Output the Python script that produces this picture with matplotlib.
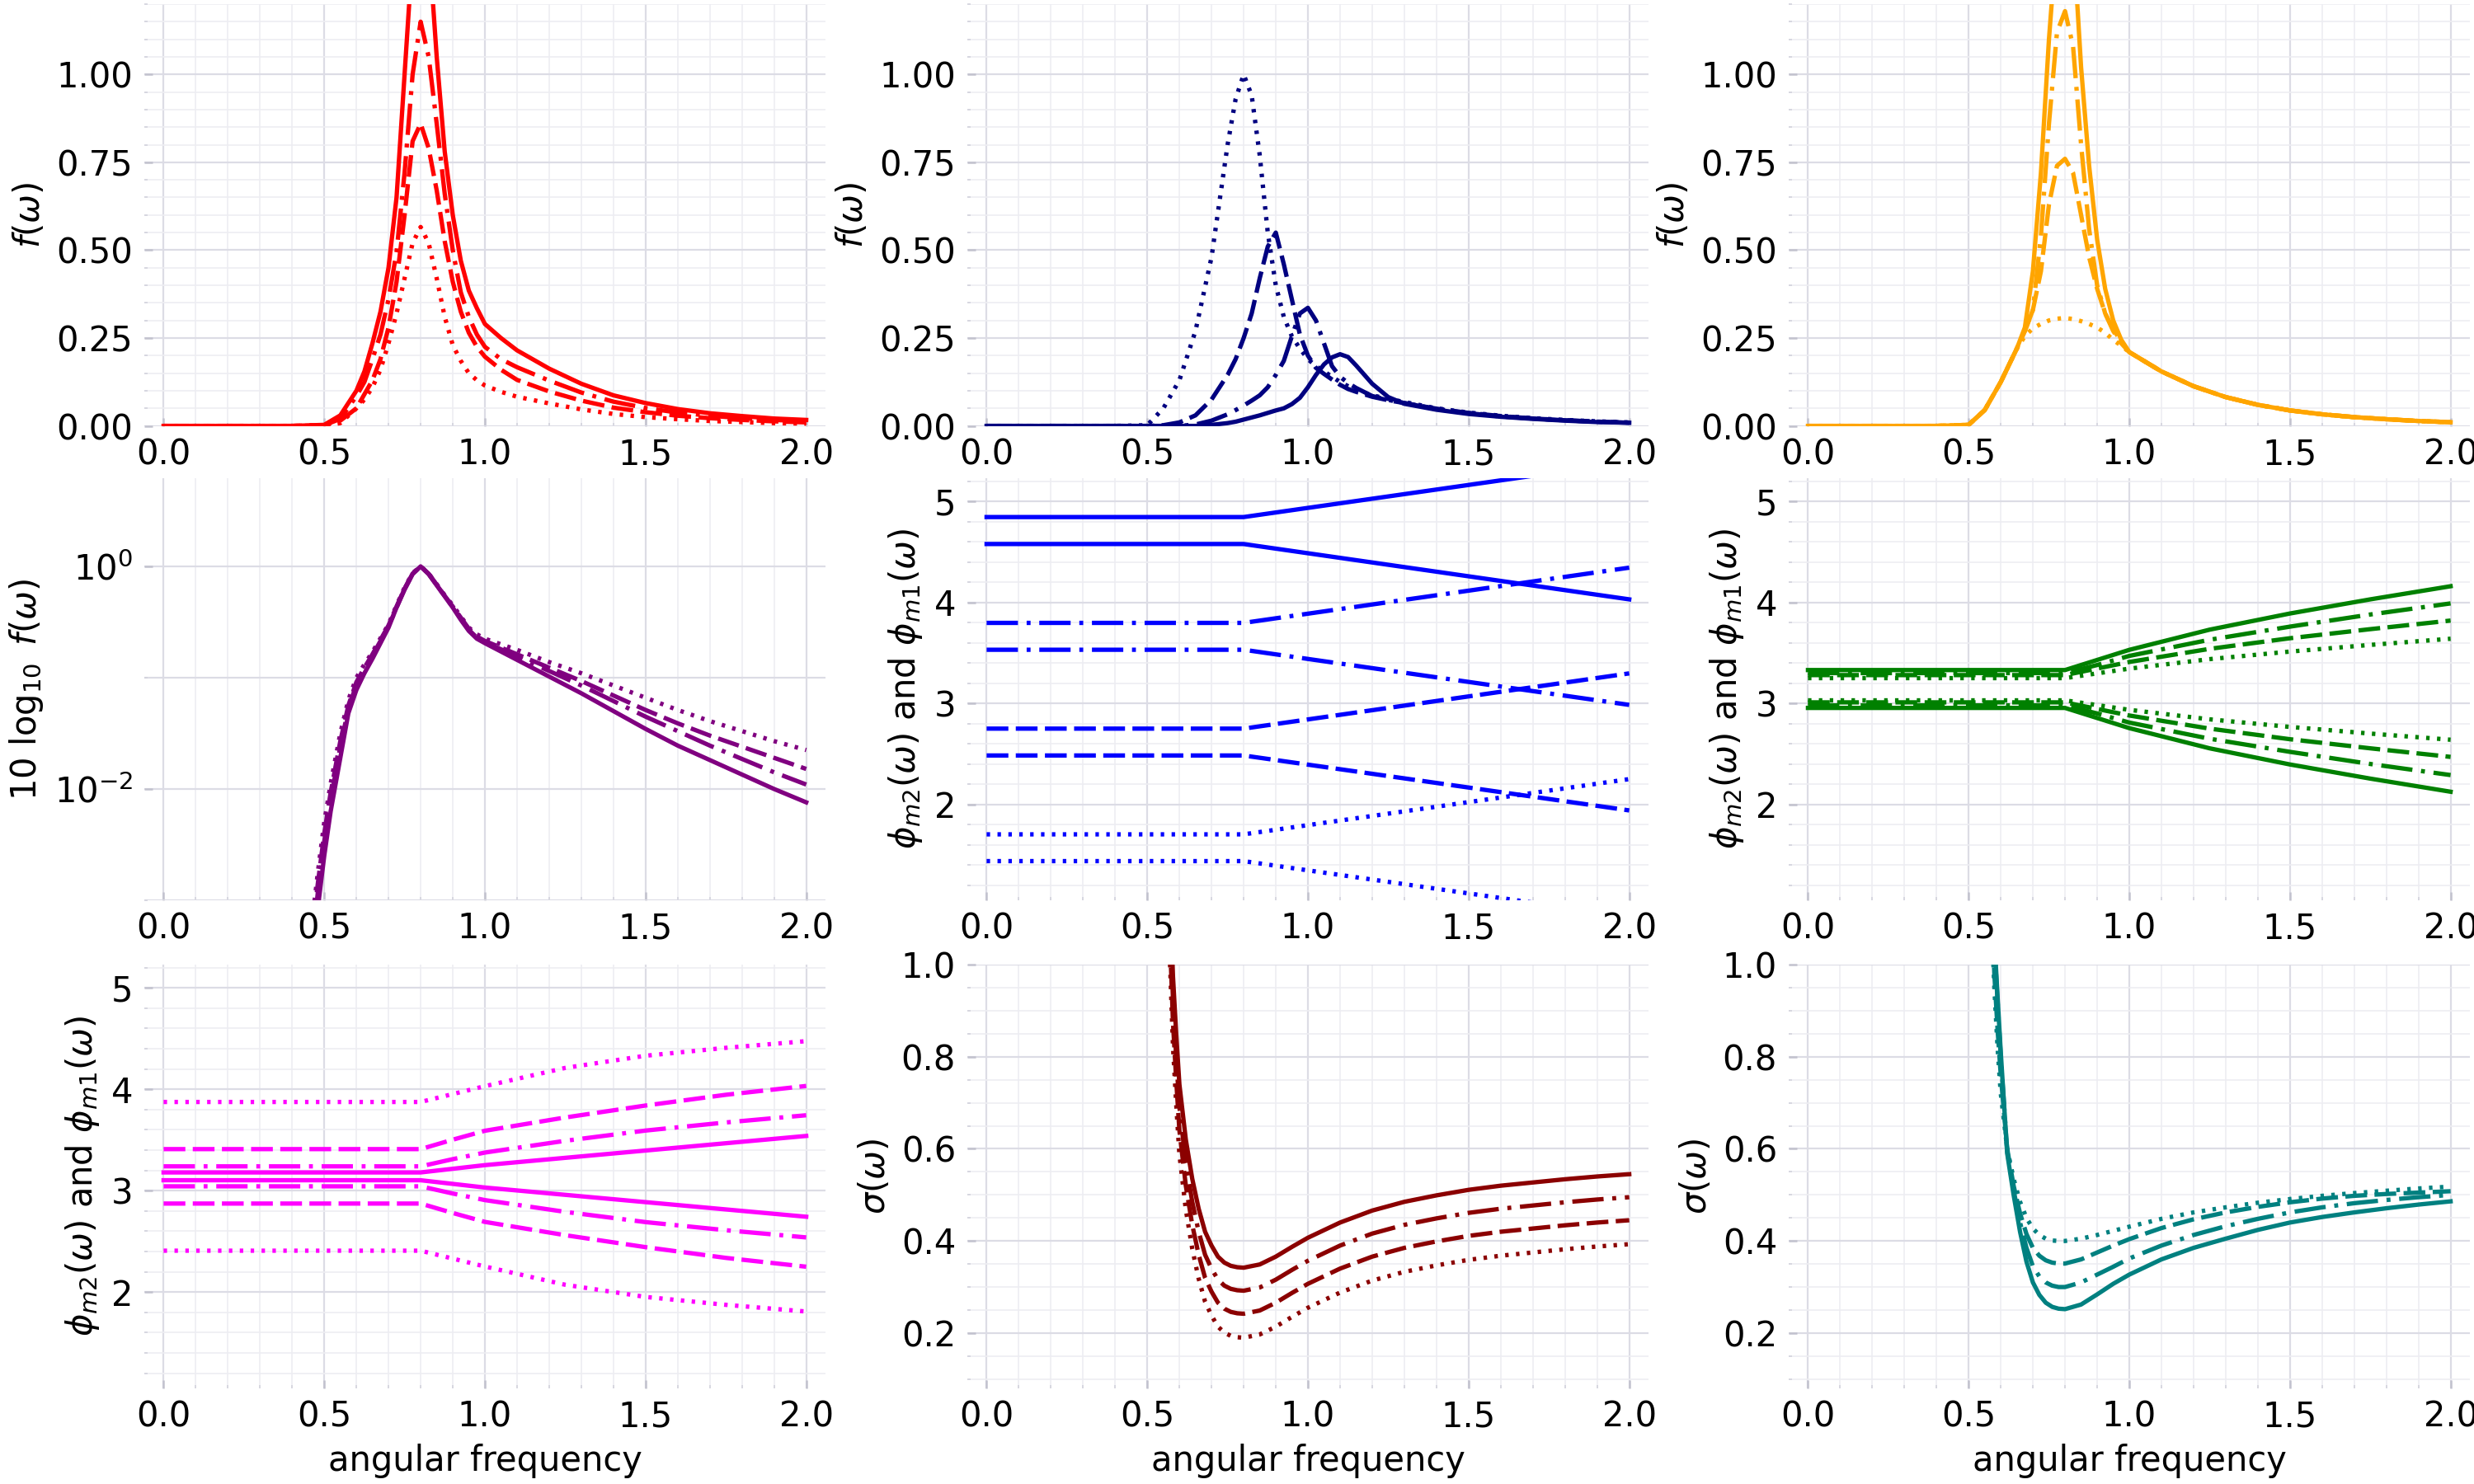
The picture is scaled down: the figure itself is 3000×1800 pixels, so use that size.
import numpy as np
import matplotlib
matplotlib.use("Agg")
import matplotlib.pyplot as plt
from matplotlib.ticker import MultipleLocator, AutoMinorLocator, FixedLocator, NullFormatter

# ---- spectra, row 1 ----
x_f1 = [0.0, 0.4, 0.5, 0.55, 0.6, 0.625, 0.65, 0.675, 0.7, 0.725, 0.75, 0.775, 0.8, 0.825, 0.85, 0.875,
        0.9, 0.925, 0.95, 0.975, 1.0, 1.05, 1.1, 1.2, 1.3, 1.4, 1.5, 1.6, 1.7, 1.8, 1.9, 2.0]
red_solid = [0, 0, 0.003, 0.03, 0.10, 0.155, 0.235, 0.325, 0.45, 0.65, 1.0, 1.35, 1.6, 1.38, 1.05, 0.78,
             0.60, 0.47, 0.385, 0.335, 0.29, 0.25, 0.215, 0.163, 0.12, 0.087, 0.065, 0.048, 0.036, 0.028, 0.021, 0.017]
red_dashdot = [0, 0, 0.002, 0.02, 0.085, 0.125, 0.19, 0.26, 0.36, 0.495, 0.72, 1.0, 1.15, 1.05, 0.86, 0.66,
               0.50, 0.38, 0.31, 0.26, 0.225, 0.19, 0.167, 0.129, 0.095, 0.069, 0.051, 0.038, 0.029, 0.022, 0.017, 0.013]
red_dashed = [0, 0, 0.002, 0.015, 0.05, 0.09, 0.13, 0.19, 0.28, 0.41, 0.60, 0.81, 0.86, 0.79, 0.67, 0.525,
              0.41, 0.325, 0.265, 0.225, 0.197, 0.16, 0.131, 0.098, 0.072, 0.052, 0.039, 0.029, 0.022, 0.017, 0.013, 0.010]
red_dotted = [0, 0, 0.001, 0.008, 0.05, 0.075, 0.11, 0.16, 0.235, 0.32, 0.42, 0.52, 0.566, 0.52, 0.42, 0.31,
              0.23, 0.185, 0.15, 0.13, 0.115, 0.097, 0.083, 0.064, 0.047, 0.034, 0.025, 0.019, 0.014, 0.011, 0.008, 0.0066]

x_f2 = [0.0, 0.4, 0.5, 0.55, 0.6, 0.65, 0.7, 0.75, 0.775, 0.8, 0.825, 0.85, 0.875, 0.9, 0.925, 0.95, 0.975,
        1.0, 1.025, 1.05, 1.075, 1.1, 1.125, 1.15, 1.2, 1.25, 1.3, 1.4, 1.5, 1.6, 1.7, 1.8, 1.9, 2.0]
navy_solid = [0, 0, 0, 0, 0, 0, 0.003, 0.008, 0.012, 0.018, 0.024, 0.03, 0.037, 0.044, 0.05, 0.062, 0.08,
              0.11, 0.145, 0.175, 0.195, 0.204, 0.196, 0.172, 0.12, 0.082, 0.063, 0.046, 0.034, 0.026, 0.02, 0.015, 0.011, 0.009]
navy_dashdot = [0, 0, 0, 0, 0, 0.004, 0.015, 0.033, 0.045, 0.058, 0.072, 0.087, 0.11, 0.145, 0.185, 0.255, 0.32,
                0.336, 0.30, 0.235, 0.17, 0.14, 0.122, 0.108, 0.085, 0.074, 0.065, 0.048, 0.036, 0.027, 0.021, 0.016, 0.012, 0.009]
navy_dashed = [0, 0, 0, 0.002, 0.01, 0.03, 0.075, 0.145, 0.19, 0.25, 0.32, 0.42, 0.51, 0.55, 0.46, 0.36, 0.26,
               0.20, 0.165, 0.148, 0.132, 0.117, 0.105, 0.097, 0.083, 0.073, 0.065, 0.049, 0.037, 0.028, 0.021, 0.016, 0.012, 0.0095]
navy_dotted = [0, 0, 0.002, 0.05, 0.13, 0.27, 0.48, 0.80, 0.93, 1.0, 0.94, 0.77, 0.55, 0.40, 0.31, 0.255, 0.22,
               0.19, 0.17, 0.155, 0.14, 0.125, 0.113, 0.102, 0.087, 0.077, 0.068, 0.05, 0.038, 0.029, 0.022, 0.017, 0.013, 0.010]

x_f3 = [0.0, 0.4, 0.5, 0.55, 0.6, 0.65, 0.675, 0.7, 0.725, 0.75, 0.775, 0.8, 0.825, 0.85, 0.875,
        0.9, 0.925, 0.95, 0.975, 1.0, 1.1, 1.2, 1.3, 1.4, 1.5, 1.6, 1.7, 1.8, 1.9, 2.0]
orange_solid = [0, 0, 0.003, 0.045, 0.125, 0.22, 0.28, 0.44, 0.72, 1.1, 1.4, 1.55, 1.4, 1.02, 0.74,
                0.53, 0.39, 0.30, 0.245, 0.21, 0.155, 0.113, 0.082, 0.060, 0.044, 0.033, 0.025, 0.019, 0.014, 0.0105]
orange_dashdot = [0, 0, 0.003, 0.045, 0.125, 0.22, 0.27, 0.33, 0.54, 0.86, 1.12, 1.18, 1.08, 0.80, 0.56,
                  0.40, 0.32, 0.275, 0.24, 0.21, 0.155, 0.113, 0.082, 0.060, 0.044, 0.033, 0.025, 0.019, 0.014, 0.0105]
orange_dashed = [0, 0, 0.003, 0.045, 0.125, 0.22, 0.27, 0.33, 0.44, 0.63, 0.74, 0.76, 0.72, 0.60, 0.48,
                 0.39, 0.32, 0.27, 0.235, 0.21, 0.155, 0.113, 0.082, 0.060, 0.044, 0.033, 0.025, 0.019, 0.014, 0.0105]
orange_dotted = [0, 0, 0.003, 0.045, 0.125, 0.22, 0.255, 0.278, 0.29, 0.30, 0.305, 0.307, 0.304, 0.298, 0.29,
                 0.28, 0.265, 0.245, 0.228, 0.21, 0.155, 0.113, 0.082, 0.060, 0.044, 0.033, 0.025, 0.019, 0.014, 0.0105]

# ---- normalised spectrum on a log axis (values are log10 readings) ----
x_log = [0.46, 0.47, 0.48, 0.5, 0.52, 0.55, 0.575, 0.6, 0.625, 0.65, 0.7, 0.725, 0.75, 0.775, 0.8, 0.825,
         0.85, 0.875, 0.9, 0.925, 0.95, 0.975, 1.0, 1.1, 1.2, 1.3, 1.4, 1.5, 1.6, 1.7, 1.8, 1.9, 2.0]
purple_solid = [-3.8, -3.4, -3.07, -2.6, -2.2, -1.72, -1.32, -1.11, -0.96, -0.83, -0.55, -0.37, -0.21, -0.07, 0.0,
                -0.07, -0.17, -0.27, -0.37, -0.48, -0.58, -0.65, -0.69,
                -0.84, -0.99, -1.14, -1.3, -1.46, -1.61, -1.74, -1.87, -2.0, -2.12]
purple_dashdot = [-3.55, -3.2, -2.93, -2.47, -2.1, -1.62, -1.28, -1.06, -0.93, -0.8, -0.54, -0.37, -0.2, -0.067, 0.0,
                  -0.068, -0.167, -0.267, -0.365, -0.47, -0.57, -0.64, -0.68,
                  -0.81, -0.94, -1.07, -1.21, -1.35, -1.48, -1.61, -1.73, -1.85, -1.96]
purple_dashed = [-3.45, -3.1, -2.85, -2.4, -2.03, -1.57, -1.25, -1.04, -0.91, -0.79, -0.53, -0.36, -0.2, -0.065, 0.0,
                 -0.067, -0.165, -0.265, -0.36, -0.46, -0.56, -0.63, -0.67,
                 -0.79, -0.91, -1.03, -1.16, -1.29, -1.41, -1.52, -1.62, -1.72, -1.82]
purple_dotted = [-3.3, -3.0, -2.75, -2.3, -1.95, -1.5, -1.2, -1.0, -0.88, -0.77, -0.52, -0.35, -0.19, -0.06, 0.0,
                 -0.065, -0.16, -0.26, -0.35, -0.45, -0.55, -0.61, -0.65,
                 -0.75, -0.86, -0.96, -1.07, -1.18, -1.29, -1.39, -1.48, -1.57, -1.65]

# ---- phases ----
x_blue = [0.0, 0.8, 2.0]
blue_up = {'solid': [4.845, 4.845, 5.39], 'dashdot': [3.797, 3.797, 4.344],
           'dashed': [2.75, 2.75, 3.297], 'dotted': [1.703, 1.703, 2.25]}
blue_lo = {'solid': [4.578, 4.578, 4.03], 'dashdot': [3.531, 3.531, 2.985],
           'dashed': [2.484, 2.484, 1.94], 'dotted': [1.438, 1.438, 0.89]}

x_ph = [0.0, 0.8, 0.9, 1.0, 1.25, 1.5, 1.75, 2.0]
green_up = {'solid': [3.33, 3.33, 3.43, 3.53, 3.73, 3.89, 4.03, 4.16],
            'dashdot': [3.30, 3.30, 3.38, 3.47, 3.63, 3.76, 3.88, 3.99],
            'dashed': [3.28, 3.28, 3.345, 3.41, 3.54, 3.645, 3.735, 3.82],
            'dotted': [3.25, 3.25, 3.297, 3.344, 3.438, 3.513, 3.579, 3.64]}
green_lo = {'solid': [2.955, 2.955, 2.855, 2.755, 2.555, 2.395, 2.255, 2.125],
            'dashdot': [2.98, 2.98, 2.90, 2.81, 2.65, 2.52, 2.40, 2.29],
            'dashed': [3.01, 3.01, 2.945, 2.88, 2.75, 2.645, 2.555, 2.47],
            'dotted': [3.03, 3.03, 2.983, 2.936, 2.842, 2.767, 2.701, 2.64]}
magenta_up = {'solid': [3.18, 3.18, 3.216, 3.252, 3.324, 3.396, 3.468, 3.54],
              'dashdot': [3.24, 3.24, 3.311, 3.376, 3.492, 3.593, 3.673, 3.744],
              'dashed': [3.41, 3.41, 3.503, 3.591, 3.722, 3.84, 3.946, 4.033],
              'dotted': [3.875, 3.875, 3.953, 4.031, 4.211, 4.331, 4.409, 4.475]}
magenta_lo = {'solid': [3.103, 3.103, 3.067, 3.031, 2.959, 2.887, 2.815, 2.743],
              'dashdot': [3.043, 3.043, 2.972, 2.907, 2.791, 2.69, 2.61, 2.539],
              'dashed': [2.873, 2.873, 2.78, 2.692, 2.561, 2.443, 2.337, 2.25],
              'dotted': [2.408, 2.408, 2.33, 2.252, 2.072, 1.952, 1.874, 1.808]}

# ---- sigma ----
x_sig = [0.55, 0.56, 0.57, 0.58, 0.59, 0.6, 0.62, 0.64, 0.66, 0.68, 0.7, 0.72, 0.74, 0.76, 0.78, 0.8,
         0.85, 0.9, 0.95, 1.0, 1.1, 1.2, 1.3, 1.4, 1.5, 1.6, 1.7, 1.8, 1.9, 2.0]
dred_solid = [1.6, 1.4, 1.17, 0.975, 0.85, 0.74, 0.62, 0.535, 0.47, 0.42, 0.39, 0.366, 0.353, 0.346, 0.343, 0.342,
              0.349, 0.366, 0.387, 0.407, 0.44, 0.466, 0.485, 0.499, 0.511, 0.52, 0.527, 0.534, 0.54, 0.545]
dred_dashdot = [1.55, 1.35, 1.12, 0.925, 0.80, 0.69, 0.57, 0.485, 0.42, 0.37, 0.34, 0.316, 0.303, 0.296, 0.293, 0.292,
                0.299, 0.316, 0.337, 0.357, 0.39, 0.416, 0.435, 0.449, 0.461, 0.47, 0.477, 0.484, 0.49, 0.495]
dred_dashed = [1.5, 1.3, 1.07, 0.875, 0.75, 0.64, 0.52, 0.435, 0.37, 0.32, 0.29, 0.266, 0.253, 0.246, 0.243, 0.242,
               0.249, 0.266, 0.287, 0.307, 0.34, 0.366, 0.385, 0.399, 0.411, 0.42, 0.427, 0.434, 0.44, 0.445]
dred_dotted = [1.45, 1.25, 1.02, 0.823, 0.698, 0.588, 0.468, 0.383, 0.318, 0.268, 0.238, 0.214, 0.201, 0.194, 0.191, 0.19,
               0.197, 0.214, 0.235, 0.255, 0.288, 0.314, 0.333, 0.347, 0.359, 0.368, 0.375, 0.382, 0.388, 0.393]
teal_solid = [1.6, 1.45, 1.25, 1.06, 0.93, 0.81, 0.59, 0.50, 0.42, 0.355, 0.31, 0.283, 0.266, 0.257, 0.253, 0.252,
              0.262, 0.284, 0.307, 0.327, 0.36, 0.385, 0.405, 0.424, 0.44, 0.452, 0.462, 0.471, 0.479, 0.486]
teal_dashdot = [1.55, 1.4, 1.22, 1.05, 0.92, 0.80, 0.595, 0.51, 0.44, 0.385, 0.345, 0.323, 0.31, 0.303, 0.30, 0.30,
                0.31, 0.327, 0.344, 0.362, 0.39, 0.413, 0.432, 0.448, 0.462, 0.473, 0.482, 0.489, 0.495, 0.50]
teal_dashed = [1.5, 1.35, 1.17, 0.98, 0.86, 0.76, 0.60, 0.52, 0.46, 0.415, 0.385, 0.368, 0.358, 0.353, 0.351, 0.351,
               0.36, 0.375, 0.39, 0.404, 0.428, 0.447, 0.462, 0.474, 0.484, 0.492, 0.498, 0.502, 0.505, 0.508]
teal_dotted = [1.45, 1.3, 1.12, 0.95, 0.82, 0.72, 0.60, 0.535, 0.485, 0.45, 0.427, 0.413, 0.405, 0.401, 0.40, 0.40,
               0.405, 0.413, 0.422, 0.431, 0.448, 0.462, 0.473, 0.483, 0.491, 0.498, 0.504, 0.509, 0.514, 0.518]

LW = 1.9
LS = {'solid': '-',
      'dashdot': (0, (7.2, 2.0, 0.9, 2.0)),
      'dashed': (0, (5.0, 1.7)),
      'dotted': (0, (0.8, 1.7))}
ORDER = ['solid', 'dashdot', 'dashed', 'dotted']
FS = 15

plt.rcParams['font.family'] = ['DejaVu Sans']
plt.rcParams['mathtext.fontset'] = 'dejavusans'

fig = plt.figure(figsize=(15, 9), dpi=200)

col_left = [175, 1173, 2169]
row_span = [(5, 516.6), (580, 1092), (1170, 1684)]
axes = []
for r, (top, bot) in enumerate(row_span):
    row = []
    for c, left in enumerate(col_left):
        ax = fig.add_axes([left / 3000, 1 - bot / 1800, 826 / 3000, (bot - top) / 1800])
        row.append(ax)
    axes.append(row)


def style(ax, ymaj=None):
    for s in ax.spines.values():
        s.set_visible(False)
    ax.set_axisbelow(True)
    ax.set_xlim(-0.06, 2.06)
    ax.xaxis.set_major_locator(MultipleLocator(0.5))
    ax.xaxis.set_minor_locator(AutoMinorLocator(5))
    if ymaj is not None:
        ax.yaxis.set_major_locator(MultipleLocator(ymaj))
        ax.yaxis.set_minor_locator(AutoMinorLocator())
    ax.grid(which='major', color='#dcdce5', lw=0.8)
    ax.grid(which='minor', color='#ededf2', lw=0.6)
    ax.tick_params(which='major', direction='in', length=3.5, width=0.9, color='#c2c2ce',
                   labelsize=FS, pad=5)
    ax.tick_params(which='minor', direction='in', length=1.5, width=0.6, color='#d2d2dc')


def draw(ax, x, curves, color):
    for key in ORDER:
        ax.plot(x, curves[key], color=color, lw=LW, ls=LS[key])


# row 1
for ax, x, curves, color in [
        (axes[0][0], x_f1, dict(solid=red_solid, dashdot=red_dashdot, dashed=red_dashed, dotted=red_dotted), 'red'),
        (axes[0][1], x_f2, dict(solid=navy_solid, dashdot=navy_dashdot, dashed=navy_dashed, dotted=navy_dotted), 'navy'),
        (axes[0][2], x_f3, dict(solid=orange_solid, dashdot=orange_dashdot, dashed=orange_dashed, dotted=orange_dotted), 'orange')]:
    draw(ax, x, curves, color)
    style(ax, 0.25)
    ax.set_ylim(0, 1.2)
    ax.set_ylabel(r'$f(\omega)$', fontsize=FS)

# row 2, left: log axis
ax = axes[1][0]
for key, vals in zip(ORDER, [purple_solid, purple_dashdot, purple_dashed, purple_dotted]):
    ax.plot(x_log, np.power(10.0, vals), color='purple', lw=LW, ls=LS[key])
ax.set_yscale('log')
style(ax)
ax.set_ylim(1e-3, 6.2)
ax.yaxis.set_major_locator(FixedLocator([1e-2, 1e0]))
ax.yaxis.set_minor_locator(FixedLocator([1e-3, 1e-1]))
ax.yaxis.set_minor_formatter(NullFormatter())
ax.yaxis.grid(which='minor', color='#dcdce5', lw=0.8)
ax.set_ylabel(r'$10\ \log_{10}\ f(\omega)$', fontsize=FS)

# phase panels
for ax, x, up, lo, color in [(axes[1][1], x_blue, blue_up, blue_lo, 'blue'),
                             (axes[1][2], x_ph, green_up, green_lo, 'green'),
                             (axes[2][0], x_ph, magenta_up, magenta_lo, 'magenta')]:
    draw(ax, x, up, color)
    draw(ax, x, lo, color)
    style(ax, 1)
    ax.set_ylim(1.05, 5.23)
    ax.set_ylabel(r'$\phi_{m2}(\omega)$ and $\phi_{m1}(\omega)$', fontsize=FS)

# sigma panels
for ax, curves, color in [
        (axes[2][1], dict(solid=dred_solid, dashdot=dred_dashdot, dashed=dred_dashed, dotted=dred_dotted), 'darkred'),
        (axes[2][2], dict(solid=teal_solid, dashdot=teal_dashdot, dashed=teal_dashed, dotted=teal_dotted), 'teal')]:
    draw(ax, x_sig, curves, color)
    style(ax, 0.2)
    ax.set_ylim(0.08, 1.0)
    ax.set_ylabel(r'$\sigma(\omega)$', fontsize=FS)

for ax in axes[2]:
    ax.set_xlabel('angular frequency', fontsize=FS)

fig.savefig('out.png', dpi=200)
